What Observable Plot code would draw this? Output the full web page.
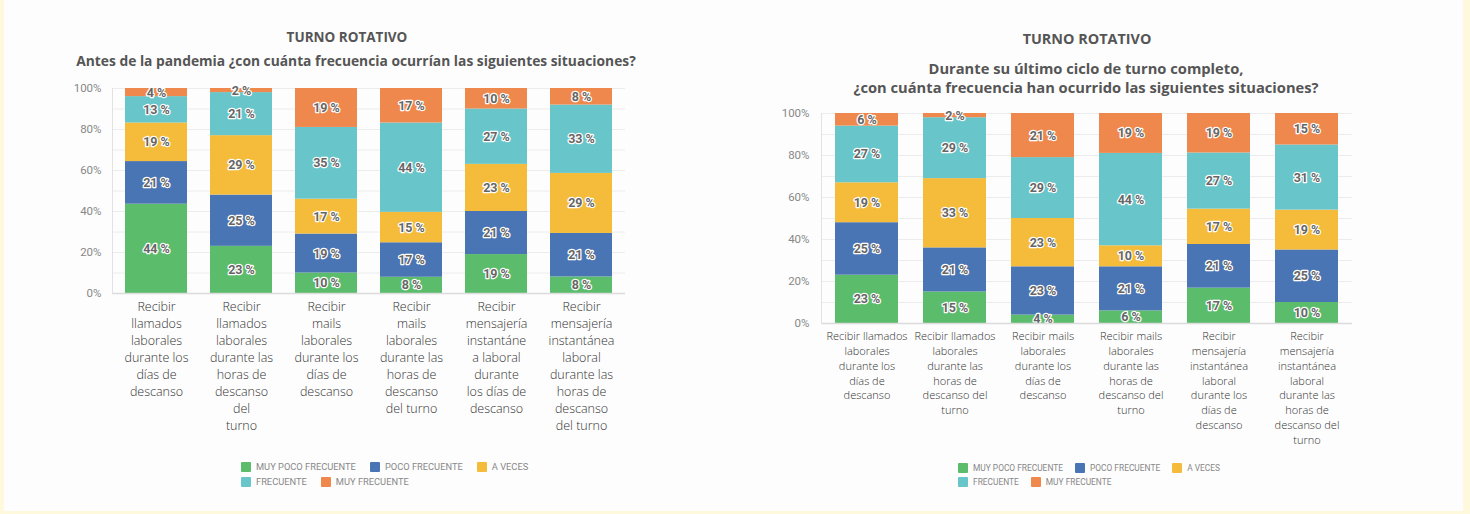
<!DOCTYPE html>
<html>
<head>
<meta charset="utf-8">
<script src="https://cdn.jsdelivr.net/npm/d3@7"></script>
<script src="https://cdn.jsdelivr.net/npm/@observablehq/plot@0.6"></script>
<style>
  html, body { margin:0; padding:0; }
  body { width:1470px; height:514px; background:#fef8dc; position:relative; overflow:hidden; font-family:"Open Sans", sans-serif; }
  #page { position:absolute; left:4px; top:0; width:1459px; height:511px; background:#fdfdfd; }
  .title { position:absolute; text-align:center; color:#555; font-weight:700; }
  .sub { position:absolute; text-align:center; color:#555; font-weight:700; line-height:19px; }
  .legend { position:absolute; display:flex; flex-wrap:wrap; color:#888; font-family:"Roboto", sans-serif; }
  .legend .it { display:flex; align-items:center; }
  .legend .sw { display:inline-block; border-radius:1px; }
</style>
</head>
<body>
<div id="page"></div>
<script>
const series = ["MUY POCO FRECUENTE", "POCO FRECUENTE", "A VECES", "FRECUENTE", "MUY FRECUENTE"];
const colors = ["#5bbd6b", "#4a75b4", "#f5bc3c", "#68c6ca", "#ef884d"];

const catsLeft = [
  "Recibir\nllamados\nlaborales\ndurante los\ndías de\ndescanso",
  "Recibir\nllamados\nlaborales\ndurante las\nhoras de\ndescanso\ndel\nturno",
  "Recibir\nmails\nlaborales\ndurante los\ndías de\ndescanso",
  "Recibir\nmails\nlaborales\ndurante las\nhoras de\ndescanso\ndel turno",
  "Recibir\nmensajería\ninstantáne\na laboral\ndurante\nlos días de\ndescanso",
  "Recibir\nmensajería\ninstantánea\nlaboral\ndurante las\nhoras de\ndescanso\ndel turno"
];
// values per series (bottom to top), one per category
const muyPocoLeft  = [44, 23, 10, 8, 19, 8];
const pocoLeft     = [21, 25, 19, 17, 21, 21];
const aVecesLeft   = [19, 29, 17, 15, 23, 29];
const frecLeft     = [13, 21, 35, 44, 27, 33];
const muyFrecLeft  = [4, 2, 19, 17, 10, 8];

const catsRight = [
  "Recibir llamados\nlaborales\ndurante los\ndías de\ndescanso",
  "Recibir llamados\nlaborales\ndurante las\nhoras de\ndescanso del\nturno",
  "Recibir mails\nlaborales\ndurante los\ndías de\ndescanso",
  "Recibir mails\nlaborales\ndurante las\nhoras de\ndescanso del\nturno",
  "Recibir\nmensajería\ninstantánea\nlaboral\ndurante los\ndías de\ndescanso",
  "Recibir\nmensajería\ninstantánea\nlaboral\ndurante las\nhoras de\ndescanso del\nturno"
];
const muyPocoRight = [23, 15, 4, 6, 17, 10];
const pocoRight    = [25, 21, 23, 21, 21, 25];
const aVecesRight  = [19, 33, 23, 10, 17, 19];
const frecRight    = [27, 29, 29, 44, 27, 31];
const muyFrecRight = [6, 2, 21, 19, 19, 15];

const yTicks = [0, 0.2, 0.4, 0.6, 0.8, 1];
const gridTicks = [0.1, 0.2, 0.3, 0.4, 0.5, 0.6, 0.7, 0.8, 0.9, 1];

function table(cats, lists) {
  const rows = [];
  cats.forEach((c, i) => lists.forEach((l, j) => rows.push({cat: c, serie: series[j], v: l[i]})));
  return rows;
}

function chart(cats, lists, o) {
  const data = table(cats, lists);
  return Plot.plot({
    width: o.width, height: o.height,
    marginLeft: o.ml, marginRight: o.mr, marginTop: o.mt, marginBottom: o.mb,
    style: {background: "transparent", fontFamily: "Open Sans, sans-serif", overflow: "visible"},
    x: {domain: cats, paddingInner: o.pad, paddingOuter: o.pad / 2, label: null},
    y: {domain: [0, 1], label: null},
    color: {domain: series, range: colors},
    marks: [
      Plot.gridY(gridTicks, {stroke: "#ececec", strokeOpacity: 1}),
      Plot.barY(data, Plot.stackY({x: "cat", y: "v", z: "serie", fill: "serie", order: series, offset: "normalize"})),
      Plot.textY(data, Plot.stackY({x: "cat", y: "v", z: "serie", order: series, offset: "normalize",
        text: d => d.v + " %", fill: "#666", stroke: "white", strokeWidth: 2.5, fontSize: o.lfs, fontWeight: 700, fontFamily: "Roboto, sans-serif"})),
      Plot.ruleY([0], {stroke: "#dcdcdc", strokeWidth: 1.5}),
      Plot.frame({anchor: "left", stroke: "#e2e2e2"}),
      Plot.axisY({ticks: yTicks, tickFormat: d => Math.round(d * 100) + "%", tickSize: 0, tickPadding: o.ytp, fontSize: 11.5, fill: "#888", fontFamily: "Roboto, sans-serif"}),
      Plot.axisX({tickSize: 0, tickPadding: o.xtp, fontSize: o.xfs, lineHeight: o.lh, fill: "#333", fontWeight: 300})
    ]
  });
}

const page = document.getElementById("page");
function place(el, x, y) { el.style.position = "absolute"; el.style.left = (x - 4) + "px"; el.style.top = y + "px"; page.appendChild(el); }
function div(cls, html, x, y, w, fs) { const d = document.createElement("div"); d.className = cls; d.innerHTML = html; d.style.width = w + "px"; d.style.fontSize = fs + "px"; place(d, x, y); return d; }

function legend(x, y, w, fs, sw, gapx, rowh) {
  const d = document.createElement("div");
  d.className = "legend";
  d.style.width = w + "px";
  d.style.fontSize = fs + "px";
  series.forEach((s, i) => {
    const it = document.createElement("div");
    it.className = "it";
    it.style.marginRight = gapx + "px";
    it.style.height = rowh + "px";
    it.innerHTML = `<span class="sw" style="width:${sw}px;height:${sw}px;background:${colors[i]};margin-right:5px"></span><span>${s}</span>`;
    d.appendChild(it);
  });
  place(d, x, y);
}

// Left chart
div("title", "TURNO ROTATIVO", 147, 28, 400, 13.5);
div("sub", "Antes de la pandemia ¿con cuánta frecuencia ocurrían las siguientes situaciones?", 46, 51, 620, 13.8);
const left = chart(catsLeft, [muyPocoLeft, pocoLeft, aVecesLeft, frecLeft, muyFrecLeft],
  {width: 580, height: 370, ml: 52, mr: 15, mt: 10, mb: 155, pad: 0.27, lfs: 12.5, xfs: 12.5, lh: 1.35, xtp: 6, ytp: 11});
place(left, 60, 78);
legend(241, 459, 320, 9.3, 10, 14, 15);

// Right chart
div("title", "TURNO ROTATIVO", 887, 29, 400, 14.4);
div("sub", "Durante su último ciclo de turno completo,<br>¿con cuánta frecuencia han ocurrido las siguientes situaciones?", 761, 59, 650, 14.7);
const right = chart(catsRight, [muyPocoRight, pocoRight, aVecesRight, frecRight, muyFrecRight],
  {width: 610, height: 380, ml: 61, mr: 18, mt: 13, mb: 157, pad: 0.28, lfs: 12.5, xfs: 11, lh: 1.35, xtp: 6, ytp: 12});
place(right, 760, 100);
legend(958, 461, 290, 8.4, 10, 12, 14);
</script>
</body>
</html>
